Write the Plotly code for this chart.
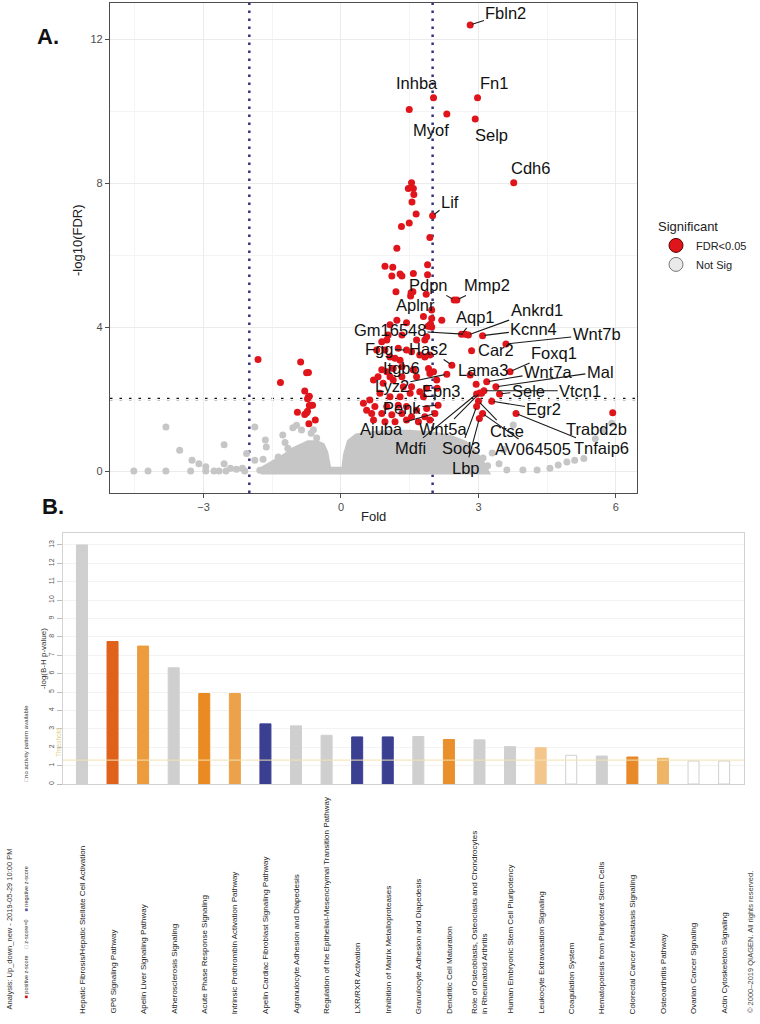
import plotly.graph_objects as go

# ================= Panel A: volcano plot data =================
# significant genes (FDR<0.05) without a text label
red_fold = [-1.81, -0.88, -0.75, -0.71, -1.32, -0.79, -0.71, -0.69, -0.73, -0.66, -0.62, -0.69,
            -0.95, -0.75, -0.73, -0.79, -0.56, -0.70,
            1.49, 1.54, 1.47, 1.58, 1.59, 1.55, 1.64, 1.49, 1.32, 1.94, 1.22,
            0.96, 1.13, 1.11, 1.29, 1.33, 1.58, 1.89, 1.89,
            1.20, 1.53, 1.57, 1.86, 1.52,
            1.98, 1.80, 2.20, 1.22, 1.43, 1.95, 1.98, 1.90, 1.07,
            1.03, 0.89, 1.00, 1.33, 1.65, 1.83, 1.87,
            1.25, 0.96, 0.78, 1.07, 1.18, 1.29, 1.54, 1.72, 1.83, 1.94,
            1.00, 0.89, 1.14, 1.33, 1.58, 1.91, 1.94, 2.02,
            0.81, 1.07, 1.33, 1.65, 2.95, 3.07,
            0.71, 0.92, 1.14, 1.36, 1.54, 1.72, 1.87, 2.09,
            0.85, 1.07, 1.29, 1.51, 1.80, 0.63, 0.74, 1.00, 1.25, 1.43, 1.65, 1.87,
            0.67, 0.89, 1.11, 1.33, 1.54, 1.83,
            0.71, 0.96, 1.18, 1.43, 1.69, 1.94, 0.49, 0.56]
red_fdr = [3.10, 3.03, 2.73, 2.74, 2.46, 2.22, 2.06, 2.08, 2.01, 1.83, 1.83, 1.82,
           1.63, 1.62, 1.66, 1.57, 1.42, 1.31,
           10.04, 8.01, 7.85, 7.85, 7.68, 7.47, 7.14, 6.89, 6.79, 6.49, 6.19,
           5.69, 5.66, 5.42, 5.47, 5.42, 5.49, 5.73, 5.45,
           4.98, 4.95, 4.98, 4.91, 4.86,
           4.24, 4.29, 4.19, 4.19, 4.12, 4.08, 4.00, 4.02, 4.06,
           3.78, 3.59, 3.64, 3.78, 3.64, 3.64, 3.73,
           3.41, 3.36, 3.36, 3.17, 3.13, 3.08, 3.31, 3.22, 3.17, 3.22,
           2.76, 2.81, 2.85, 2.90, 2.81, 2.85, 2.71, 2.76,
           2.62, 2.62, 2.62, 2.62, 2.41, 2.16,
           2.53, 2.44, 2.53, 2.34, 2.34, 2.20, 2.30, 2.53,
           2.16, 2.06, 2.06, 2.16, 2.06, 1.97, 1.79, 1.79, 1.83, 1.79, 1.69, 1.74,
           1.60, 1.60, 1.56, 1.60, 1.51, 1.51,
           1.42, 1.37, 1.37, 1.42, 1.37, 1.42, 1.88, 1.69]

# labelled significant genes
genes = ["Fbln2", "Inhba", "Fn1", "Myof", "Selp", "Cdh6", "Lif", "Pdpn", "Mmp2", "Aplnr",
         "Aqp1", "Ankrd1", "Gm16548", "Kcnn4", "Wnt7b", "Car2", "Fgg", "Has2", "Lama3",
         "Foxq1", "Itgb6", "Lyz2", "Wnt7a", "Mal", "Epn3", "Sele", "Vtcn1", "Penk", "Egr2",
         "Ajuba", "Wnt5a", "Trabd2b", "Ctse", "Mdfi", "Sod3", "AV064505", "Tnfaip6", "Lbp"]
gene_fold = [2.82, 2.02, 2.98, 2.31, 2.93, 3.77, 2.00, 2.47, 2.53, 1.98,
             2.63, 2.78, 2.71, 3.09, 3.60, 2.85, 1.43, 2.42, 2.82,
             3.69, 1.58, 2.31, 3.18, 3.38, 2.10, 3.46, 3.12, 2.12, 3.29,
             2.05, 3.03, 5.93, 3.00, 2.96, 2.96, 3.09, 3.82, 3.02]
gene_fdr = [12.39, 10.37, 10.37, 9.92, 9.78, 8.01, 7.09, 4.75, 4.75, 4.47,
            3.80, 3.78, 3.80, 3.76, 3.53, 3.34, 3.36, 2.94, 2.67,
            2.76, 2.81, 2.69, 2.48, 2.34, 2.30, 2.14, 2.23, 1.83, 1.94,
            1.60, 2.17, 1.62, 1.94, 2.14, 1.79, 1.60, 1.60, 1.46]
# where each label text sits (repelled label layout) and whether a leader line is drawn
label_fold = [3.60, 1.67, 3.33, 1.96, 3.28, 4.13, 2.38, 1.91, 3.18, 1.62,
              2.93, 4.27, 1.07, 4.21, 5.58, 3.38, 0.84, 1.91, 3.09,
              4.64, 1.33, 1.11, 4.53, 5.66, 2.20, 4.09, 5.22, 1.33, 4.43,
              0.89, 2.24, 5.58, 3.62, 1.51, 2.62, 4.20, 5.69, 2.73]
label_fdr = [12.71, 10.77, 10.77, 9.47, 9.33, 8.41, 7.48, 5.17, 5.17, 4.61,
             4.27, 4.47, 3.92, 3.94, 3.80, 3.37, 3.39, 3.39, 2.80,
             3.29, 2.85, 2.37, 2.76, 2.76, 2.23, 2.23, 2.23, 1.74, 1.71,
             1.18, 1.16, 1.16, 1.12, 0.63, 0.63, 0.60, 0.63, 0.09]
label_line = [True, False, False, False, False, False, True, True, True, False,
              True, True, True, True, True, False, True, True, False,
              True, False, True, True, True, False, True, True, True, True,
              True, True, False, True, True, True, True, True, True]

# non-significant genes: scattered points and the dense central cloud outline
gray_fold = [-4.52, -4.21, -3.82, -3.82, -3.52, -3.28, -3.25, -3.10, -2.95, -2.95, -2.77, -2.66,
             -2.55, -2.55, -2.51, -2.41, -2.28, -2.15, -2.10, -2.06, -1.88, -1.88, -1.77, -1.65,
             -1.63, -1.70, -1.37, -1.27, -1.22, -1.16, -1.05, -0.97, -0.86, -0.65, -0.60, -0.53,
             3.10, 3.20, 3.30, 3.45, 3.55, 3.62, 3.76, 3.97, 4.28, 4.56, 4.74, 4.93, 5.10, 5.30,
             5.55, 5.72, 5.91]
gray_fdr = [0.00, 0.00, 0.00, 1.22, 0.58, 0.00, 0.30, 0.20, 0.12, 0.00, 0.00, 0.00,
            0.73, 0.20, 0.00, 0.08, 0.05, 0.08, 0.00, 0.49, 1.22, 0.30, 0.02, 0.86,
            0.67, 0.33, 0.39, 1.00, 0.79, 0.63, 1.20, 1.27, 1.14, 1.05, 1.15, 0.92,
            0.36, 0.15, 0.50, 0.20, 0.60, 0.03, 1.28, 0.03, 0.03, 0.08, 0.17, 0.25, 0.30, 0.35,
            0.90, 1.14, 1.33]
cloud_fold = [-1.75, -1.48, -1.19, -1.04, -0.90, -0.71, -0.53, -0.42, -0.35, -0.31, -0.28,
              0.08, 0.12, 0.20, 0.35, 0.60, 1.00, 1.50, 2.00, 2.40, 2.70, 2.90, 3.05, 3.15, -1.75]
cloud_fdr = [0.00, 0.18, 0.42, 0.56, 0.64, 0.76, 0.76, 0.70, 0.50, 0.25, 0.02,
             0.02, 0.45, 0.80, 0.95, 1.00, 1.05, 1.05, 1.00, 0.90, 0.75, 0.50, 0.25, 0.00, 0.00]

fold_ticks = [-3, 0, 3, 6]
fdr_ticks = [0, 4, 8, 12]
fold_cutoff = 2
fdr_cutoff = 2

# ================= Panel B: IPA canonical pathways =================
pathways = ["Hepatic Fibrosis/Hepatic Stellate Cell Activation", "GP6 Signaling Pathway",
            "Apelin Liver Signaling Pathway", "Atherosclerosis Signaling",
            "Acute Phase Response Signaling", "Intrinsic Prothrombin Activation Pathway",
            "Apelin Cardiac Fibroblast Signaling Pathway", "Agranulocyte Adhesion and Diapedesis",
            "Regulation of the Epithelial-Mesenchymal Transition Pathway", "LXR/RXR Activation",
            "Inhibition of Matrix Metalloproteases", "Granulocyte Adhesion and Diapedesis",
            "Dendritic Cell Maturation",
            "Role of Osteoblasts, Osteoclasts and Chondrocytes<br>in Rheumatoid Arthritis",
            "Human Embryonic Stem Cell Pluripotency", "Leukocyte Extravasation Signaling",
            "Coagulation System", "Hematopoiesis from Pluripotent Stem Cells",
            "Colorectal Cancer Metastasis Signaling", "Osteoarthritis Pathway",
            "Ovarian Cancer Signaling", "Actin Cytoskeleton Signaling"]
neg_log_p = [13.0, 7.75, 7.5, 6.32, 4.92, 4.92, 3.27, 3.16, 2.65, 2.56, 2.56, 2.58,
             2.42, 2.40, 2.03, 1.97, 1.56, 1.52, 1.47, 1.40, 1.25, 1.25]
bar_y_ticks = list(range(0, 14))
threshold = 1.3

# styles (z-score shading)
GRAY = "#cfcfcf"
WHITE = "#ffffff"
BLUE = "#3a3f91"
bar_colors = [GRAY, "#e0621a", "#ec9b3d", GRAY, "#e98a22", "#eca24a", BLUE, GRAY, GRAY, BLUE,
              BLUE, GRAY, "#e98f2b", GRAY, GRAY, "#f3c68c", WHITE, GRAY, "#e8892a", "#efb566",
              WHITE, WHITE]
bar_line_colors = ["#cfcfcf" if c == WHITE else c for c in bar_colors]

FONT = "Liberation Sans, Arial, Helvetica, sans-serif"
RED = "#e0151b"
NS = "#c6c6c6"

fig = go.Figure()

# ---- panel A traces ----
fig.add_trace(go.Scatter(x=cloud_fold, y=cloud_fdr, mode="lines", fill="toself",
                         fillcolor=NS, line=dict(color=NS, width=7),
                         hoverinfo="skip", showlegend=False, xaxis="x", yaxis="y"))
fig.add_trace(go.Scatter(x=gray_fold, y=gray_fdr, mode="markers",
                         marker=dict(size=7, color=NS), showlegend=False,
                         xaxis="x", yaxis="y"))
fig.add_trace(go.Scatter(x=red_fold + gene_fold, y=red_fdr + gene_fdr, mode="markers",
                         marker=dict(size=7, color=RED), showlegend=False,
                         xaxis="x", yaxis="y"))
# legend keys
fig.add_trace(go.Scatter(x=[None], y=[None], mode="markers", name="FDR<0.05",
                         marker=dict(size=14, color=RED, line=dict(color="#5a0000", width=1)),
                         xaxis="x", yaxis="y"))
fig.add_trace(go.Scatter(x=[None], y=[None], mode="markers", name="Not Sig",
                         marker=dict(size=14, color="#e9e9e9", line=dict(color="#777777", width=1)),
                         xaxis="x", yaxis="y"))

# ---- panel B bars ----
fig.add_trace(go.Bar(x=pathways, y=neg_log_p, width=0.36,
                     marker=dict(color=bar_colors, line=dict(color=bar_line_colors, width=1)),
                     showlegend=False, xaxis="x2", yaxis="y2"))

annotations = []
for g, px, py, lx, ly, ln in zip(genes, gene_fold, gene_fdr, label_fold, label_fdr, label_line):
    if ln:
        annotations.append(dict(x=px, y=py, xref="x", yref="y", ax=lx, ay=ly, axref="x", ayref="y",
                                text=g, showarrow=True, arrowhead=0, arrowwidth=1.1,
                                arrowcolor="#1a1a1a", standoff=2,
                                font=dict(size=16.5, color="#111111", family=FONT)))
    else:
        annotations.append(dict(x=lx, y=ly, xref="x", yref="y", text=g, showarrow=False,
                                font=dict(size=16.5, color="#111111", family=FONT)))


def px2x(p):
    return p / 760.0


def py2y(p):
    return 1 - p / 1024.0


def ptext(x, y, text, size, color="#222", angle=0, yanchor="middle", **kw):
    d = dict(x=px2x(x), y=py2y(y), xref="paper", yref="paper", text=text, showarrow=False,
             xanchor="center", yanchor=yanchor, textangle=angle,
             font=dict(size=size, color=color, family=FONT))
    d.update(kw)
    return d


annotations += [
    ptext(48, 36, "<b>A.</b>", 22, "#111"),
    ptext(53, 506, "<b>B.</b>", 22, "#111"),
    ptext(77, 240, "-log10(FDR)", 13, angle=-90),
    ptext(373, 516, "Fold", 13),
    ptext(43, 659, "-log(B-H p-value)", 8, "#333", angle=-90),
    ptext(58, 743, "Threshold", 6.5, "#e3cf8e", angle=-90),
    ptext(750, 1015, "© 2000–2019 QIAGEN. All rights reserved.", 7.5, "#444", angle=-90,
          yanchor="bottom"),
    ptext(9, 1012, "Analysis: Up_down_new - 2019-05-29 10:00 PM", 7.5, "#333", angle=-90,
          yanchor="bottom"),
    ptext(25, 1001, "<span style='color:#d01010'>■</span> positive z-score", 5.5, "#333",
          angle=-90, yanchor="bottom"),
    ptext(25, 951, "<span style='color:#888'>□</span> z-score=0", 5.5, "#333",
          angle=-90, yanchor="bottom"),
    ptext(25, 914, "<span style='color:#5a5aa0'>■</span> negative z-score", 5.5, "#333",
          angle=-90, yanchor="bottom"),
    ptext(25, 784, "<span style='color:#888'>□</span>no activity pattern available", 6, "#333",
          angle=-90, yanchor="bottom"),
]
for i, name in enumerate(pathways):
    annotations.append(dict(x=i, y=py2y(1016), xref="x2", yref="paper", xanchor="center",
                            yanchor="bottom", text=name, textangle=-90, showarrow=False,
                            align="left", font=dict(size=8, color="#222", family=FONT)))

shapes = [
    dict(type="line", xref="x", yref="paper", x0=-fold_cutoff, x1=-fold_cutoff,
         y0=1 - 493 / 1024, y1=1 - 3 / 1024,
         line=dict(color="#35357e", width=2.5, dash="2.5px,5.5px"), layer="below"),
    dict(type="line", xref="x", yref="paper", x0=fold_cutoff, x1=fold_cutoff,
         y0=1 - 493 / 1024, y1=1 - 3 / 1024,
         line=dict(color="#35357e", width=2.5, dash="2.5px,5.5px"), layer="below"),
    dict(type="line", xref="paper", yref="y", x0=110 / 760, x1=637 / 760, y0=fdr_cutoff,
         y1=fdr_cutoff, line=dict(color="#111111", width=2.5, dash="2.5px,7px"), layer="below"),
    dict(type="line", xref="paper", yref="y2", x0=63 / 760, x1=744 / 760, y0=threshold,
         y1=threshold, line=dict(color="#f1e2b2", width=1), layer="above"),
]

fig.update_layout(
    width=760, height=1024, margin=dict(l=0, r=0, t=0, b=0),
    paper_bgcolor="white", plot_bgcolor="white",
    font=dict(family=FONT),
    annotations=annotations, shapes=shapes,
    xaxis=dict(domain=[110 / 760, 637 / 760], range=[-5.04, 6.46], tickvals=fold_ticks,
               showgrid=True, gridcolor="#ebebeb", gridwidth=1,
               minor=dict(dtick=1.5, tick0=0, showgrid=True, gridcolor="#f4f4f4"),
               zeroline=False, showline=True, mirror=True, linecolor="#4d4d4d", linewidth=1.3,
               ticks="outside", ticklen=4, tickcolor="#4d4d4d",
               tickfont=dict(size=11, color="#4d4d4d"), anchor="y"),
    yaxis=dict(domain=[1 - 493 / 1024, 1 - 3 / 1024], range=[-0.61, 13.0], tickvals=fdr_ticks,
               showgrid=True, gridcolor="#ebebeb", gridwidth=1,
               minor=dict(dtick=2, tick0=0, showgrid=True, gridcolor="#f4f4f4"),
               zeroline=False, showline=True, mirror=True, linecolor="#4d4d4d", linewidth=1.3,
               ticks="outside", ticklen=4, tickcolor="#4d4d4d",
               tickfont=dict(size=11, color="#4d4d4d"), anchor="x"),
    xaxis2=dict(domain=[63 / 760, 744 / 760], range=[-0.62, 21.65], type="category",
                showticklabels=False, showgrid=False, zeroline=False, showline=True, mirror=True,
                linecolor="#d2d2d2", linewidth=1, ticks="", anchor="y2"),
    yaxis2=dict(domain=[1 - 784 / 1024, 1 - 533 / 1024], range=[0, 13.65], tickvals=bar_y_ticks,
                tickangle=-90, showgrid=True, gridcolor="#f3f3f3", zeroline=False,
                showline=True, mirror=True, linecolor="#d2d2d2", linewidth=1,
                ticks="outside", ticklen=5, tickcolor="#bbbbbb",
                tickfont=dict(size=7, color="#555"), anchor="x2"),
    legend=dict(x=656 / 760, y=1 - 214 / 1024, xanchor="left", yanchor="top",
                itemwidth=30, tracegroupgap=0,
                title=dict(text="Significant", font=dict(size=13, color="#222")),
                font=dict(size=11, color="#222"), bgcolor="rgba(0,0,0,0)"),
)

fig.write_html("out.html", config={"displayModeBar": False},
               post_script="document.body.style.margin='0px';")
